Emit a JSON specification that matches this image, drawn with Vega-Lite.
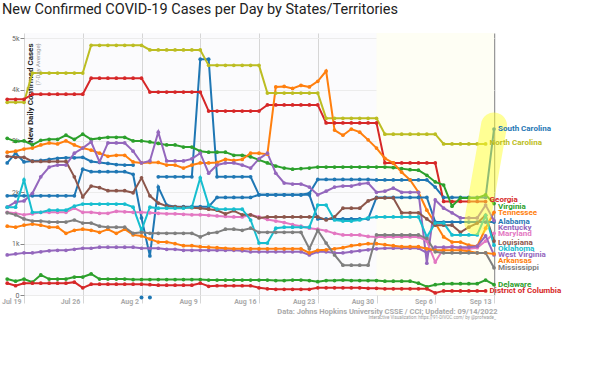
{
  "$schema": "https://vega.github.io/schema/vega-lite/v6.json",
  "width": 470,
  "height": 262,
  "autosize": "none",
  "padding": {"left": 24, "top": 33, "right": 106, "bottom": 93},
  "background": "#ffffff",
  "title": {"text": "New Confirmed COVID-19 Cases per Day by States/Territories", "anchor": "start", "frame": "group", "dx": -22, "offset": 16, "fontSize": 14.5, "fontWeight": "normal", "font": "Roboto", "color": "#222222"},
  "config": {"view": {"stroke": null, "fill": "#fbfbfd"}, "font": "Roboto"},
  "datasets": {
    "cases": [
      {"date":"2022/07/17","SC":2570,"NC":3750,"GA":3810,"VA":3050,"TN":2780,"AL":1930,"KY":1710,"MD":1610,"LA":2700,"OK":1710,"WV":780,"AR":1340,"MS":1600,"DE":310,"DC":230},
      {"date":"2022/07/18","SC":2760,"NC":3750,"GA":3810,"VA":2990,"TN":2800,"AL":1930,"KY":1810,"MD":1590,"LA":2680,"OK":1710,"WV":800,"AR":1320,"MS":1560,"DE":270,"DC":180},
      {"date":"2022/07/19","SC":2590,"NC":3750,"GA":3810,"VA":3000,"TN":2840,"AL":1930,"KY":1830,"MD":1560,"LA":2680,"OK":2240,"WV":820,"AR":1360,"MS":1480,"DE":310,"DC":230},
      {"date":"2022/07/20","SC":2610,"NC":4320,"GA":3910,"VA":2920,"TN":2860,"AL":1930,"KY":1980,"MD":1580,"LA":2600,"OK":1610,"WV":820,"AR":1380,"MS":1440,"DE":250,"DC":230},
      {"date":"2022/07/21","SC":2620,"NC":4320,"GA":3910,"VA":3010,"TN":2920,"AL":1930,"KY":2300,"MD":1610,"LA":2600,"OK":1610,"WV":840,"AR":1360,"MS":1440,"DE":390,"DC":230},
      {"date":"2022/07/22","SC":2640,"NC":4320,"GA":3910,"VA":3030,"TN":2960,"AL":1930,"KY":2490,"MD":1610,"LA":2600,"OK":1650,"WV":860,"AR":1320,"MS":1420,"DE":310,"DC":230},
      {"date":"2022/07/23","SC":2660,"NC":4320,"GA":3910,"VA":3030,"TN":2940,"AL":1930,"KY":2530,"MD":1610,"LA":2600,"OK":1650,"WV":870,"AR":1320,"MS":1420,"DE":310,"DC":230},
      {"date":"2022/07/24","SC":2670,"NC":4320,"GA":3910,"VA":3110,"TN":3000,"AL":1930,"KY":2530,"MD":1610,"LA":2600,"OK":1650,"WV":870,"AR":1200,"MS":1420,"DE":310,"DC":230},
      {"date":"2022/07/25","SC":2670,"NC":4320,"GA":3910,"VA":3030,"TN":2920,"AL":1930,"KY":2760,"MD":1690,"LA":2300,"OK":1730,"WV":890,"AR":1260,"MS":1460,"DE":350,"DC":250},
      {"date":"2022/07/26","SC":2680,"NC":4320,"GA":3910,"VA":3130,"TN":2860,"AL":2450,"KY":2860,"MD":1610,"LA":1910,"OK":1770,"WV":910,"AR":1280,"MS":1400,"DE":350,"DC":140},
      {"date":"2022/07/27","SC":2600,"NC":4860,"GA":4220,"VA":3030,"TN":2820,"AL":2400,"KY":2980,"MD":1610,"LA":2120,"OK":1770,"WV":910,"AR":1260,"MS":1400,"DE":410,"DC":210},
      {"date":"2022/07/28","SC":2580,"NC":4860,"GA":4220,"VA":3050,"TN":2760,"AL":2400,"KY":2590,"MD":1590,"LA":2090,"OK":1770,"WV":930,"AR":1220,"MS":1340,"DE":310,"DC":210},
      {"date":"2022/07/29","SC":2560,"NC":4860,"GA":4220,"VA":3070,"TN":2700,"AL":2400,"KY":2960,"MD":1590,"LA":2030,"OK":1770,"WV":930,"AR":1280,"MS":1320,"DE":310,"DC":210},
      {"date":"2022/07/30","SC":2540,"NC":4860,"GA":4220,"VA":3070,"TN":2720,"AL":2400,"KY":2960,"MD":1630,"LA":2030,"OK":1770,"WV":930,"AR":1200,"MS":1320,"DE":310,"DC":210},
      {"date":"2022/07/31","SC":2530,"NC":4860,"GA":4220,"VA":3070,"TN":2720,"AL":2400,"KY":2960,"MD":1620,"LA":2030,"OK":1770,"WV":930,"AR":1280,"MS":1320,"DE":310,"DC":210},
      {"date":"2022/08/01","SC":2530,"NC":4860,"GA":4220,"VA":3000,"TN":2590,"AL":2350,"KY":2800,"MD":1610,"LA":1990,"OK":1710,"WV":930,"AR":1170,"MS":1200,"DE":300,"DC":210},
      {"date":"2022/08/02","SC":null,"NC":4860,"GA":4220,"VA":3000,"TN":2570,"AL":1500,"KY":2570,"MD":1610,"LA":2280,"OK":1260,"WV":910,"AR":1150,"MS":1220,"DE":300,"DC":210},
      {"date":"2022/08/03","SC":null,"NC":4770,"GA":3950,"VA":2980,"TN":2580,"AL":760,"KY":2610,"MD":1600,"LA":1930,"OK":1710,"WV":910,"AR":1090,"MS":1200,"DE":300,"DC":200},
      {"date":"2022/08/04","SC":2300,"NC":4770,"GA":3950,"VA":2950,"TN":2580,"AL":2100,"KY":3170,"MD":1590,"LA":1790,"OK":1690,"WV":910,"AR":1030,"MS":1200,"DE":300,"DC":190},
      {"date":"2022/08/05","SC":2300,"NC":4770,"GA":3950,"VA":2920,"TN":2530,"AL":1750,"KY":2610,"MD":1580,"LA":1730,"OK":1690,"WV":890,"AR":1030,"MS":1200,"DE":300,"DC":190},
      {"date":"2022/08/06","SC":2300,"NC":4770,"GA":3950,"VA":2920,"TN":2530,"AL":1720,"KY":2610,"MD":1580,"LA":1720,"OK":1690,"WV":890,"AR":1000,"MS":1200,"DE":300,"DC":190},
      {"date":"2022/08/07","SC":2300,"NC":4770,"GA":3950,"VA":2880,"TN":2470,"AL":1720,"KY":2610,"MD":1570,"LA":1710,"OK":1690,"WV":870,"AR":960,"MS":1200,"DE":300,"DC":190},
      {"date":"2022/08/08","SC":2300,"NC":4770,"GA":3950,"VA":2880,"TN":2530,"AL":1720,"KY":2650,"MD":1560,"LA":1700,"OK":1710,"WV":870,"AR":960,"MS":1200,"DE":300,"DC":190},
      {"date":"2022/08/09","SC":4590,"NC":4770,"GA":3950,"VA":2800,"TN":2570,"AL":1720,"KY":2760,"MD":1560,"LA":1690,"OK":2280,"WV":870,"AR":940,"MS":1130,"DE":300,"DC":230},
      {"date":"2022/08/10","SC":4590,"NC":4470,"GA":3580,"VA":2780,"TN":2570,"AL":1720,"KY":2370,"MD":1550,"LA":1670,"OK":1750,"WV":870,"AR":930,"MS":1200,"DE":290,"DC":170},
      {"date":"2022/08/11","SC":2300,"NC":4470,"GA":3580,"VA":2780,"TN":2580,"AL":1900,"KY":2530,"MD":1540,"LA":1650,"OK":1670,"WV":870,"AR":920,"MS":1220,"DE":290,"DC":180},
      {"date":"2022/08/12","SC":2300,"NC":4470,"GA":3580,"VA":2780,"TN":2640,"AL":1900,"KY":2570,"MD":1530,"LA":1580,"OK":1670,"WV":870,"AR":910,"MS":1280,"DE":290,"DC":180},
      {"date":"2022/08/13","SC":2300,"NC":4470,"GA":3580,"VA":2720,"TN":2620,"AL":1900,"KY":2570,"MD":1520,"LA":1640,"OK":1670,"WV":870,"AR":900,"MS":1280,"DE":290,"DC":180},
      {"date":"2022/08/14","SC":2300,"NC":4470,"GA":3580,"VA":2720,"TN":2640,"AL":1900,"KY":2530,"MD":1520,"LA":1560,"OK":1670,"WV":860,"AR":900,"MS":1260,"DE":290,"DC":180},
      {"date":"2022/08/15","SC":2300,"NC":4470,"GA":3580,"VA":2690,"TN":2760,"AL":1900,"KY":2470,"MD":1560,"LA":1560,"OK":1460,"WV":840,"AR":900,"MS":1300,"DE":290,"DC":180},
      {"date":"2022/08/16","SC":1950,"NC":4470,"GA":3580,"VA":2630,"TN":2760,"AL":1950,"KY":2650,"MD":1520,"LA":1500,"OK":1010,"WV":840,"AR":900,"MS":1220,"DE":290,"DC":140},
      {"date":"2022/08/17","SC":1950,"NC":3930,"GA":3700,"VA":2570,"TN":2740,"AL":1950,"KY":2760,"MD":1470,"LA":1520,"OK":1010,"WV":840,"AR":900,"MS":1220,"DE":290,"DC":120},
      {"date":"2022/08/18","SC":1950,"NC":3930,"GA":3700,"VA":2510,"TN":4050,"AL":1950,"KY":2370,"MD":1440,"LA":1520,"OK":1300,"WV":840,"AR":900,"MS":1220,"DE":280,"DC":110},
      {"date":"2022/08/19","SC":1950,"NC":3930,"GA":3700,"VA":2470,"TN":4060,"AL":1950,"KY":2180,"MD":1410,"LA":1520,"OK":1320,"WV":840,"AR":900,"MS":1220,"DE":280,"DC":110},
      {"date":"2022/08/20","SC":1950,"NC":3930,"GA":3700,"VA":2450,"TN":4020,"AL":1950,"KY":2160,"MD":1370,"LA":1520,"OK":1320,"WV":840,"AR":900,"MS":1220,"DE":290,"DC":110},
      {"date":"2022/08/21","SC":1950,"NC":3930,"GA":3700,"VA":2460,"TN":4080,"AL":1950,"KY":2160,"MD":1340,"LA":1520,"OK":1320,"WV":840,"AR":900,"MS":1220,"DE":290,"DC":110},
      {"date":"2022/08/22","SC":1980,"NC":3930,"GA":3700,"VA":2470,"TN":4050,"AL":1950,"KY":2100,"MD":1300,"LA":1520,"OK":1320,"WV":780,"AR":820,"MS":900,"DE":280,"DC":110},
      {"date":"2022/08/23","SC":2250,"NC":3930,"GA":3700,"VA":2490,"TN":4160,"AL":1480,"KY":1950,"MD":1280,"LA":1520,"OK":1750,"WV":840,"AR":870,"MS":1260,"DE":260,"DC":140},
      {"date":"2022/08/24","SC":2250,"NC":3440,"GA":3350,"VA":2490,"TN":4360,"AL":1480,"KY":2020,"MD":1250,"LA":1460,"OK":1750,"WV":840,"AR":880,"MS":1010,"DE":280,"DC":140},
      {"date":"2022/08/25","SC":2250,"NC":3440,"GA":3350,"VA":2490,"TN":3210,"AL":1480,"KY":2100,"MD":1200,"LA":1520,"OK":1460,"WV":820,"AR":900,"MS":780,"DE":280,"DC":140},
      {"date":"2022/08/26","SC":2250,"NC":3440,"GA":3350,"VA":2490,"TN":3110,"AL":1480,"KY":2120,"MD":1170,"LA":1690,"OK":1440,"WV":820,"AR":920,"MS":580,"DE":290,"DC":140},
      {"date":"2022/08/27","SC":2250,"NC":3440,"GA":3350,"VA":2490,"TN":3230,"AL":1480,"KY":2120,"MD":1170,"LA":1690,"OK":1440,"WV":840,"AR":960,"MS":580,"DE":280,"DC":140},
      {"date":"2022/08/28","SC":2250,"NC":3440,"GA":3350,"VA":2490,"TN":3170,"AL":1480,"KY":2160,"MD":1170,"LA":1690,"OK":1460,"WV":860,"AR":980,"MS":580,"DE":280,"DC":140},
      {"date":"2022/08/29","SC":2250,"NC":3440,"GA":3350,"VA":2490,"TN":3020,"AL":1480,"KY":2180,"MD":1140,"LA":1830,"OK":1500,"WV":880,"AR":1000,"MS":580,"DE":280,"DC":130},
      {"date":"2022/08/30","SC":2240,"NC":3440,"GA":3350,"VA":2490,"TN":2860,"AL":1900,"KY":2000,"MD":1130,"LA":1890,"OK":1520,"WV":900,"AR":1000,"MS":1170,"DE":280,"DC":130},
      {"date":"2022/08/31","SC":2240,"NC":3130,"GA":2570,"VA":2490,"TN":2660,"AL":1900,"KY":2020,"MD":1130,"LA":1890,"OK":1520,"WV":910,"AR":980,"MS":1170,"DE":270,"DC":120},
      {"date":"2022/09/01","SC":2240,"NC":3130,"GA":2570,"VA":2480,"TN":2570,"AL":1900,"KY":2080,"MD":1130,"LA":1890,"OK":1520,"WV":910,"AR":960,"MS":1170,"DE":270,"DC":120},
      {"date":"2022/09/02","SC":2240,"NC":3130,"GA":2570,"VA":2460,"TN":2390,"AL":1900,"KY":2000,"MD":1130,"LA":1600,"OK":1520,"WV":910,"AR":940,"MS":1170,"DE":270,"DC":120},
      {"date":"2022/09/03","SC":2240,"NC":3130,"GA":2570,"VA":2440,"TN":2240,"AL":1900,"KY":2000,"MD":1130,"LA":1600,"OK":1520,"WV":910,"AR":940,"MS":1170,"DE":270,"DC":120},
      {"date":"2022/09/04","SC":2240,"NC":3130,"GA":2570,"VA":2430,"TN":2000,"AL":1900,"KY":2000,"MD":1130,"LA":1600,"OK":1520,"WV":910,"AR":940,"MS":1170,"DE":230,"DC":120},
      {"date":"2022/09/05","SC":2240,"NC":3130,"GA":2570,"VA":2330,"TN":1650,"AL":1900,"KY":620,"MD":1050,"LA":1480,"OK":1130,"WV":820,"AR":900,"MS":1100,"DE":160,"DC":120},
      {"date":"2022/09/06","SC":2100,"NC":3130,"GA":2570,"VA":2200,"TN":1400,"AL":1420,"KY":1850,"MD":640,"LA":1360,"OK":1400,"WV":930,"AR":870,"MS":840,"DE":200,"DC":40},
      {"date":"2022/09/07","SC":1900,"NC":2940,"GA":1820,"VA":2140,"TN":1130,"AL":1420,"KY":1690,"MD":910,"LA":1360,"OK":1400,"WV":930,"AR":870,"MS":820,"DE":220,"DC":80},
      {"date":"2022/09/08","SC":1900,"NC":2940,"GA":1820,"VA":1730,"TN":1030,"AL":1420,"KY":1600,"MD":950,"LA":1360,"OK":1170,"WV":930,"AR":870,"MS":820,"DE":220,"DC":80},
      {"date":"2022/09/09","SC":1900,"NC":2940,"GA":1820,"VA":1890,"TN":1030,"AL":1420,"KY":1500,"MD":900,"LA":1220,"OK":1170,"WV":930,"AR":870,"MS":820,"DE":220,"DC":80},
      {"date":"2022/09/10","SC":1900,"NC":2940,"GA":1820,"VA":1890,"TN":970,"AL":1420,"KY":1500,"MD":900,"LA":1320,"OK":1170,"WV":930,"AR":850,"MS":820,"DE":220,"DC":80},
      {"date":"2022/09/11","SC":1900,"NC":2940,"GA":1820,"VA":1890,"TN":950,"AL":1420,"KY":1500,"MD":920,"LA":1400,"OK":1170,"WV":950,"AR":820,"MS":820,"DE":220,"DC":80},
      {"date":"2022/09/12","SC":1900,"NC":2940,"GA":1820,"VA":1950,"TN":1300,"AL":1420,"KY":1750,"MD":1050,"LA":1550,"OK":1550,"WV":1150,"AR":820,"MS":820,"DE":290,"DC":80},
      {"date":"2022/09/13","SC":3230,"NC":null,"GA":null,"VA":1780,"TN":1610,"AL":1420,"KY":1450,"MD":1200,"LA":1050,"OK":970,"WV":780,"AR":800,"MS":530,"DE":200,"DC":null}
    ],
    "labels": [
      {"st":"SC","name":"South Carolina","date":"2022/09/13","ly":3230},
      {"st":"NC","name":"North Carolina","date":"2022/09/12","ly":2960},
      {"st":"GA","name":"Georgia","date":"2022/09/12","ly":1850},
      {"st":"VA","name":"Virginia","date":"2022/09/13","ly":1710},
      {"st":"TN","name":"Tennessee","date":"2022/09/13","ly":1600},
      {"st":"AL","name":"Alabama","date":"2022/09/13","ly":1420},
      {"st":"KY","name":"Kentucky","date":"2022/09/13","ly":1300},
      {"st":"MD","name":"Maryland","date":"2022/09/13","ly":1190},
      {"st":"LA","name":"Louisiana","date":"2022/09/13","ly":1010},
      {"st":"OK","name":"Oklahoma","date":"2022/09/13","ly":890},
      {"st":"WV","name":"West Virginia","date":"2022/09/13","ly":780},
      {"st":"AR","name":"Arkansas","date":"2022/09/13","ly":660},
      {"st":"MS","name":"Mississippi","date":"2022/09/13","ly":530},
      {"st":"DE","name":"Delaware","date":"2022/09/13","ly":200},
      {"st":"DC","name":"District of Columbia","date":"2022/09/12","ly":80}
    ]
  },
  "layer": [
    {
      "data": {"values": [{}]},
      "mark": {"type": "rect", "color": "#fefef4"},
      "encoding": {
        "x": {"datum": {"year": 2022, "month": 8, "date": 30}, "type": "temporal"},
        "x2": {"datum": {"year": 2022, "month": 9, "date": 13}}
      }
    },
    {
      "data": {"name": "cases"},
      "transform": [{"fold": ["SC","NC","GA","VA","TN","AL","KY","MD","LA","OK","WV","AR","MS","DE","DC"], "as": ["st","v"]}],
      "encoding": {
        "x": {
          "field": "date", "type": "temporal",
          "scale": {"domain": [{"year": 2022, "month": 7, "date": 19}, {"year": 2022, "month": 9, "date": 13}]},
          "axis": {
            "values": [{"year":2022,"month":7,"date":19},{"year":2022,"month":7,"date":26},{"year":2022,"month":8,"date":2},{"year":2022,"month":8,"date":9},{"year":2022,"month":8,"date":16},{"year":2022,"month":8,"date":23},{"year":2022,"month":8,"date":30},{"year":2022,"month":9,"date":6},{"year":2022,"month":9,"date":13}],
            "format": "%b %-d",
            "grid": true,
            "gridColor": {"condition": {"test": "month(datum.value) == 8 && date(datum.value) == 13", "value": "#999999"}, "value": "#d6d6d6"},
            "gridWidth": {"condition": {"test": "month(datum.value) == 8 && date(datum.value) == 13", "value": 1.5}, "value": 1},
            "domain": false,
            "tickColor": "#d6d6d6",
            "tickSize": 8,
            "labelAlign": "right",
            "labelBaseline": "middle",
            "labelOffset": -3,
            "labelPadding": -2,
            "labelFontSize": 7,
            "labelFontWeight": "bold",
            "labelColor": "#aaaaaa",
            "title": "Data: Johns Hopkins University CSSE / CCI; Updated: 09/14/2022",
            "titleFontSize": 7.5,
            "titleFontWeight": "bold",
            "titleColor": "#aaaaaa",
            "titleAnchor": "end",
            "titleAlign": "right",
            "titleBaseline": "middle",
            "titleX": 473,
            "titleY": 16.5
          }
        },
        "y": {
          "field": "v", "type": "quantitative",
          "scale": {"domain": [0, 5100], "nice": false},
          "axis": {
            "values": [0,500,1000,1500,2000,2500,3000,3500,4000,4500,5000],
            "labelExpr": "datum.value >= 1000 ? (datum.value / 1000) + 'k' : datum.label",
            "grid": true,
            "gridColor": "#ececec",
            "domain": false,
            "tickColor": "#888888",
            "tickSize": 4,
            "labelPadding": 1,
            "labelFontSize": 7,
            "labelColor": "#666666",
            "title": "New Daily Confirmed Cases",
            "titleFontSize": 8,
            "titleFontWeight": "bold",
            "titleColor": "#222222",
            "titleAngle": 270,
            "titleAlign": "right",
            "titleBaseline": "middle",
            "titleX": 6,
            "titleY": 10
          }
        },
        "color": {
          "field": "st", "type": "nominal", "legend": null,
          "scale": {
            "domain": ["SC","NC","GA","VA","TN","AL","KY","MD","LA","OK","WV","AR","MS","DE","DC"],
            "range": ["#1f77b4","#bcbd22","#d62728","#2ca02c","#ff7f0e","#1f77b4","#9467bd","#e377c2","#8c564b","#17becf","#9467bd","#ff7f0e","#7f7f7f","#2ca02c","#d62728"]
          }
        }
      },
      "layer": [
        {"mark": {"type": "line", "strokeWidth": 2, "invalid": "break-paths-filter-domains"}},
        {"mark": {"type": "circle", "size": 14, "opacity": 1}}
      ]
    },
    {
      "data": {"values": [{"date": "2022/08/02", "v": -50}, {"date": "2022/08/03", "v": -50}]},
      "mark": {"type": "circle", "size": 16, "opacity": 1, "color": "#1f77b4"},
      "encoding": {
        "x": {"field": "date", "type": "temporal"},
        "y": {"field": "v", "type": "quantitative"}
      }
    },
    {
      "data": {"values": [{"date": "2022/09/11", "v": 1420}, {"date": "2022/09/13", "v": 3300}]},
      "mark": {"type": "line", "strokeWidth": 26, "strokeCap": "round", "color": "#ffff33", "opacity": 0.5},
      "encoding": {
        "x": {"field": "date", "type": "temporal"},
        "y": {"field": "v", "type": "quantitative"}
      }
    },
    {
      "data": {"name": "labels"},
      "mark": {"type": "text", "align": "left", "baseline": "middle", "dx": 4, "fontSize": 8, "fontWeight": "bold"},
      "encoding": {
        "x": {"field": "date", "type": "temporal"},
        "y": {"field": "ly", "type": "quantitative"},
        "text": {"field": "name"},
        "color": {"field": "st", "type": "nominal", "legend": null}
      }
    },
    {
      "data": {"values": [{"t": "(7-Day Average)"}]},
      "mark": {"type": "text", "angle": 270, "align": "right", "baseline": "middle", "dy": 14, "fontSize": 6, "color": "#999999"},
      "encoding": {
        "x": {"datum": {"year": 2022, "month": 7, "date": 19}, "type": "temporal"},
        "y": {"datum": 4900},
        "text": {"field": "t"}
      }
    },
    {
      "data": {"values": [{"t": "Interactive Visualization: https://91-DIVOC.com/ by @profwade_"}]},
      "mark": {"type": "text", "align": "right", "baseline": "middle", "dy": 23, "dx": 2, "fontSize": 4.5, "color": "#999999"},
      "encoding": {
        "x": {"datum": {"year": 2022, "month": 9, "date": 13}, "type": "temporal"},
        "y": {"datum": 0},
        "text": {"field": "t"}
      }
    }
  ]
}
